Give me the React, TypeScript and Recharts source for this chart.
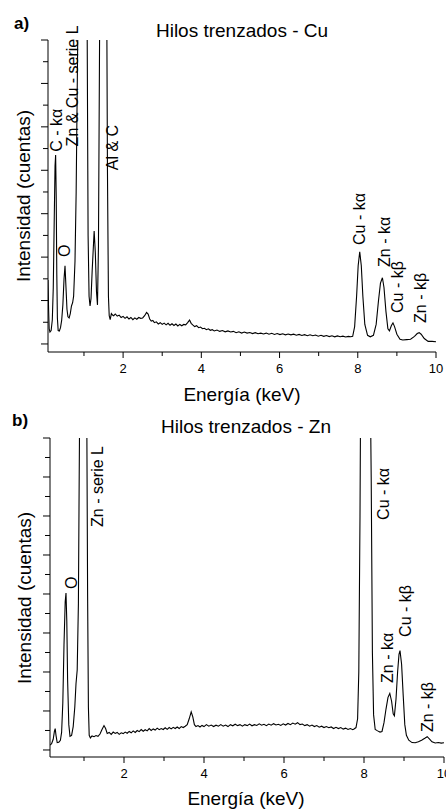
import React from 'react';
import { LineChart, Line, XAxis, YAxis, ReferenceDot } from 'recharts';

const FONT = '"Liberation Sans", Arial, Helvetica, sans-serif';

// ---------- Panel a) Hilos trenzados - Cu ----------
const energyA = [
  0.08, 0.095, 0.11, 0.13, 0.16, 0.19, 0.215, 0.24, 0.26, 0.275, 0.29, 0.305, 0.32, 0.34, 0.37, 0.4, 0.43, 0.46, 0.49, 0.515,
  0.54, 0.565, 0.59, 0.62, 0.65, 0.68, 0.71, 0.735, 0.77, 0.8, 0.84, 0.88, 0.94, 1.0, 1.04, 1.08, 1.105, 1.13, 1.155, 1.18,
  1.21, 1.26, 1.29, 1.32, 1.345, 1.37, 1.4, 1.45, 1.5, 1.56, 1.6, 1.625, 1.645, 1.67, 1.7, 1.73,
  1.76, 1.8, 1.85, 1.9, 1.95, 2.0, 2.05, 2.1, 2.15, 2.2, 2.25, 2.3, 2.35, 2.4, 2.45, 2.5, 2.55, 2.6, 2.64, 2.68,
  2.72, 2.76, 2.8, 2.85, 2.9, 2.95, 3.0, 3.05, 3.1, 3.15, 3.2, 3.25, 3.3, 3.35, 3.4, 3.45, 3.5, 3.55, 3.6, 3.65,
  3.7, 3.74, 3.78, 3.83, 3.88, 3.93, 3.98, 4.03, 4.08, 4.13, 4.18, 4.23, 4.28, 4.33, 4.4, 4.47, 4.54, 4.61, 4.68, 4.75,
  4.82, 4.89, 4.96, 5.03, 5.1, 5.17, 5.24, 5.31, 5.38, 5.45, 5.52, 5.59, 5.66, 5.73, 5.8, 5.87, 5.94, 6.01, 6.08, 6.15,
  6.22, 6.29, 6.36, 6.43, 6.5, 6.57, 6.64, 6.71, 6.78, 6.85, 6.92, 6.99, 7.06, 7.13, 7.2, 7.27, 7.34, 7.41, 7.48, 7.55,
  7.62, 7.69, 7.76, 7.82, 7.87, 7.92, 7.97, 8.01, 8.05, 8.09, 8.13, 8.18, 8.25, 8.32, 8.4, 8.47, 8.53, 8.58, 8.63, 8.67,
  8.72, 8.77, 8.81, 8.86, 8.9, 8.94, 9.0, 9.08, 9.15, 9.25, 9.35, 9.45, 9.52, 9.57, 9.62, 9.7, 9.8, 9.9, 10.0,
];
const countsA = [
  2.95, 1.6, 0.7, 0.55, 0.62, 1.1, 2.6, 5.8, 8.2, 8.7, 6.8, 3.2, 1.2, 0.62, 0.6, 0.75, 1.1, 1.8, 3.0, 3.6,
  2.6, 1.6, 1.25, 1.2, 1.4, 1.75, 1.9, 2.2, 3.8, 7, 14, 22, 30, 27, 24, 15, 5, 2.2, 1.75, 2.1,
  3.4, 5.2, 4.2, 2.4, 1.8, 4.5, 14.5, 35, 45, 25, 8, 2.2, 1.3, 1.12, 1.4, 1.33,
  1.3, 1.38, 1.28, 1.33, 1.22, 1.27, 1.18, 1.25, 1.15, 1.22, 1.12, 1.2, 1.14, 1.22, 1.18, 1.2, 1.3, 1.45, 1.38, 1.15,
  1.05, 1.08, 0.98, 1.02, 0.92, 0.98, 0.9, 0.96, 0.88, 0.95, 0.86, 0.93, 0.85, 0.92, 0.83, 0.9, 0.84, 0.9, 0.88, 0.98,
  1.1, 0.95, 0.88, 0.8, 0.84, 0.75, 0.78, 0.7, 0.72, 0.66, 0.7, 0.63, 0.66, 0.6, 0.64, 0.58, 0.62, 0.56, 0.6, 0.55,
  0.58, 0.52, 0.56, 0.5, 0.55, 0.5, 0.53, 0.48, 0.52, 0.47, 0.5, 0.46, 0.5, 0.45, 0.49, 0.44, 0.48, 0.43, 0.47, 0.42,
  0.46, 0.42, 0.45, 0.4, 0.44, 0.39, 0.43, 0.38, 0.42, 0.38, 0.41, 0.36, 0.4, 0.35, 0.39, 0.34, 0.38, 0.33, 0.37, 0.33,
  0.36, 0.32, 0.35, 0.33, 0.35, 0.8, 2.2, 3.6, 4.25, 3.6, 2.2, 0.9, 0.4, 0.33, 0.4, 0.9, 2.0, 2.8, 3.05, 2.6,
  1.5, 0.7, 0.6, 0.85, 0.97, 0.8, 0.45, 0.22, 0.18, 0.2, 0.22, 0.35, 0.48, 0.52, 0.45, 0.25, 0.12, 0.12, 0.1,
];
const peakTextA = ['C - kα', 'Zn & Cu - serie L', 'O', 'Al & C', 'Cu - kα', 'Zn - kα', 'Cu - kβ', 'Zn - kβ'];
const peakEnergyA = [0.31, 0.7, 0.49, 1.72, 8.04, 8.68, 9.01, 9.6];
const peakCountsA = [8.85, 9.1, 4.0, 8.0, 4.56, 3.55, 1.43, 0.97];
const yTicksA = [0, 1, 2, 3, 4, 5, 6, 7, 8, 9, 10, 11, 12, 13, 14];

// ---------- Panel b) Hilos trenzados - Zn ----------
const energyB = [
  0.15, 0.19, 0.23, 0.26, 0.28, 0.3, 0.33, 0.37, 0.41, 0.44, 0.47, 0.5, 0.53, 0.55, 0.57, 0.59, 0.62, 0.65, 0.69, 0.73,
  0.77, 0.8, 0.83, 0.86, 0.88, 0.92, 0.98, 1.03, 1.07, 1.09, 1.11, 1.13, 1.16,
  1.2, 1.25, 1.3, 1.35, 1.4, 1.45, 1.5, 1.54, 1.58, 1.63, 1.68, 1.73, 1.78, 1.83, 1.88, 1.93, 1.98, 2.03, 2.08, 2.13,
  2.18, 2.23, 2.28, 2.33, 2.38, 2.43, 2.48, 2.53, 2.58, 2.63, 2.68, 2.73, 2.78, 2.83, 2.88, 2.93, 2.98, 3.03, 3.08, 3.13,
  3.18, 3.23, 3.28, 3.33, 3.38, 3.43, 3.48, 3.53, 3.58, 3.63, 3.68, 3.72, 3.76, 3.8, 3.85, 3.9, 3.95, 4.0, 4.06, 4.12,
  4.18, 4.24, 4.3, 4.36, 4.42, 4.48, 4.54, 4.6, 4.66, 4.72, 4.78, 4.84, 4.9, 4.96, 5.02, 5.08, 5.14, 5.2, 5.26, 5.32,
  5.38, 5.44, 5.5, 5.56, 5.62, 5.68, 5.74, 5.8, 5.86, 5.92, 5.98, 6.04, 6.1, 6.16, 6.22, 6.28, 6.34, 6.4, 6.46, 6.52,
  6.58, 6.64, 6.7, 6.76, 6.82, 6.88, 6.94, 7.0, 7.06, 7.12, 7.18, 7.24, 7.3, 7.36, 7.42, 7.48, 7.54, 7.6, 7.66, 7.72,
  7.75, 7.8, 7.84, 7.87, 7.9, 7.93, 8.0, 8.08, 8.14, 8.18, 8.21, 8.24, 8.28, 8.34, 8.4, 8.45, 8.5, 8.55, 8.6, 8.645,
  8.69, 8.73, 8.76, 8.8, 8.84, 8.875, 8.9, 8.94, 8.98, 9.02, 9.06, 9.12, 9.2, 9.28, 9.36, 9.44, 9.52, 9.58, 9.64, 9.7,
  9.78, 9.86, 9.93, 10.0,
];
const countsB = [
  0.25, 0.32, 0.55, 0.95, 1.1, 0.75, 0.38, 0.4, 0.5, 0.9, 2.4, 5.4, 7.6, 8.05, 6.6, 3.6, 1.3, 0.7, 0.75, 1.2,
  2.2, 3.4, 4.1, 7.5, 14, 26, 32, 26, 17, 8, 2.2, 0.75, 0.62,
  0.72, 0.68, 0.74, 0.7, 0.82, 1.05, 1.25, 1.1, 0.85, 0.9, 0.8, 0.92, 0.85, 0.9, 0.8, 0.88, 0.84, 0.92, 0.86, 0.95,
  0.88, 0.98, 0.9, 1.0, 0.94, 1.05, 0.96, 1.04, 0.98, 1.1, 1.0, 1.08, 1.02, 1.12, 1.04, 1.1, 1.05, 1.14, 1.06, 1.15,
  1.08, 1.16, 1.1, 1.18, 1.1, 1.2, 1.15, 1.22, 1.3, 1.6, 1.95, 1.7, 1.3, 1.2, 1.25, 1.18, 1.26, 1.2, 1.3, 1.22,
  1.28, 1.2, 1.27, 1.22, 1.3, 1.22, 1.28, 1.2, 1.3, 1.24, 1.32, 1.25, 1.3, 1.22, 1.3, 1.25, 1.33, 1.24, 1.3, 1.26,
  1.34, 1.27, 1.32, 1.25, 1.33, 1.27, 1.35, 1.28, 1.32, 1.26, 1.34, 1.28, 1.36, 1.3, 1.38, 1.32, 1.4, 1.3, 1.33, 1.25,
  1.3, 1.22, 1.28, 1.2, 1.25, 1.17, 1.22, 1.15, 1.2, 1.14, 1.18, 1.1, 1.16, 1.1, 1.15, 1.07, 1.12, 1.05, 1.1, 1.04,
  1.08, 1.15, 1.6, 4, 12, 24, 42, 35, 22, 14, 5, 1.8, 1.05, 0.98, 0.92, 0.95, 1.4, 2.1, 2.7, 2.9,
  2.5, 1.85, 1.75, 2.6, 4.0, 4.9, 5.1, 4.4, 2.8, 1.3, 0.75, 0.5, 0.38, 0.37, 0.42, 0.5, 0.6, 0.68, 0.56, 0.42,
  0.36, 0.38, 0.35, 0.37,
];
const peakTextB = ['O', 'Zn - serie L', 'Cu - kα', 'Zn - kα', 'Cu - kβ', 'Zn - kβ'];
const peakEnergyB = [0.68, 1.33, 8.5, 8.58, 9.03, 9.58];
const peakCountsB = [8.26, 11.44, 11.8, 3.44, 5.8, 0.92];
const yTicksB = [0, 1, 2, 3, 4, 5, 6, 7, 8, 9, 10, 11, 12, 13, 14, 15, 16];

// ---------- shared ----------
const xTicks = [1, 2, 3, 4, 5, 6, 7, 8, 9, 10];
const xLabelTicks = [2, 4, 6, 8, 10];

const XTick = (props: any) => {
  const { x, y, payload } = props;
  const v = payload.value;
  const major = xLabelTicks.includes(v);
  return (
    <g>
      <line x1={x} y1={y} x2={x} y2={y + (major ? 6 : 4)} stroke="#000" strokeWidth={1} />
      {major && (
        <text x={x} y={y + 21} textAnchor="middle" fontSize={13} fontFamily={FONT} fill="#000">
          {v}
        </text>
      )}
    </g>
  );
};

const YTick = (props: any) => {
  const { x, y, payload } = props;
  const major = payload.value % 2 === 0;
  return <line x1={x - (major ? 7 : 5)} y1={y} x2={x} y2={y} stroke="#000" strokeWidth={1} />;
};

const PeakLabel = (text: string) => (props: any) => {
  const { cx, cy } = props;
  if (typeof cx !== 'number' || typeof cy !== 'number') return <g />;
  return (
    <text
      x={cx}
      y={cy}
      transform={`rotate(-90 ${cx} ${cy})`}
      textAnchor="start"
      dominantBaseline="central"
      fontSize={16}
      fontFamily={FONT}
      fill="#000"
    >
      {text}
    </text>
  );
};

type PanelProps = {
  energy: number[];
  counts: number[];
  xMin: number;
  yMin: number;
  yMax: number;
  yTicks: number[];
  margin: { top: number; right: number; bottom: number; left: number };
  peakText: string[];
  peakEnergy: number[];
  peakCounts: number[];
  tag: string;
  title: string;
  tagPos: [number, number];
  titlePos: [number, number];
  xLabelPos: [number, number];
  yLabelPos: [number, number];
};

const Panel = (p: PanelProps) => {
  const data = p.energy.map((e, i) => ({ e, v: p.counts[i] }));
  return (
    <div style={{ position: 'relative', width: 446, height: 405 }}>
      <LineChart width={446} height={405} data={data} margin={p.margin}>
        <XAxis
          dataKey="e"
          type="number"
          domain={[p.xMin, 10]}
          allowDataOverflow
          ticks={xTicks}
          interval={0}
          tickSize={0}
          tickMargin={0}
          tickLine={false}
          tick={<XTick />}
          axisLine={{ stroke: '#000', strokeWidth: 1 }}
          height={50}
        />
        <YAxis
          type="number"
          domain={[p.yMin, p.yMax]}
          allowDataOverflow
          ticks={p.yTicks}
          interval={0}
          tickSize={0}
          tickMargin={0}
          tickLine={false}
          tick={<YTick />}
          axisLine={{ stroke: '#000', strokeWidth: 1 }}
          width={40}
        />
        <Line
          type="linear"
          dataKey="v"
          stroke="#000"
          strokeWidth={1.1}
          dot={false}
          activeDot={false}
          isAnimationActive={false}
        />
        {p.peakText.map((t, i) => (
          <ReferenceDot
            key={t + i}
            x={p.peakEnergy[i]}
            y={p.peakCounts[i]}
            r={0}
            ifOverflow="visible"
            shape={PeakLabel(t)}
          />
        ))}
      </LineChart>
      <svg
        width={446}
        height={405}
        style={{ position: 'absolute', left: 0, top: 0, pointerEvents: 'none' }}
      >
        <text x={p.tagPos[0]} y={p.tagPos[1]} fontSize={17} fontWeight="bold" fontFamily={FONT} fill="#000">
          {p.tag}
        </text>
        <text x={p.titlePos[0]} y={p.titlePos[1]} fontSize={19} textAnchor="middle" fontFamily={FONT} fill="#000">
          {p.title}
        </text>
        <text x={p.xLabelPos[0]} y={p.xLabelPos[1]} fontSize={19} textAnchor="middle" fontFamily={FONT} fill="#000">
          Energía (keV)
        </text>
        <text
          x={p.yLabelPos[0]}
          y={p.yLabelPos[1]}
          transform={`rotate(-90 ${p.yLabelPos[0]} ${p.yLabelPos[1]})`}
          fontSize={19}
          textAnchor="middle"
          dominantBaseline="central"
          fontFamily={FONT}
          fill="#000"
        >
          Intensidad (cuentas)
        </text>
      </svg>
    </div>
  );
};

export default function App() {
  return (
    <div style={{ position: 'absolute', left: 0, top: 0, width: 446, height: 810, background: '#fff', overflow: 'hidden' }}>
      <Panel
        energy={energyA}
        counts={countsA}
        xMin={0.08}
        yMin={-0.37}
        yMax={14}
        yTicks={yTicksA}
        margin={{ top: 40, right: 10, bottom: 3, left: 8 }}
        peakText={peakTextA}
        peakEnergy={peakEnergyA}
        peakCounts={peakCountsA}
        tag="a)"
        title="Hilos trenzados - Cu"
        tagPos={[14, 29]}
        titlePos={[242, 37]}
        xLabelPos={[242, 401]}
        yLabelPos={[23, 196]}
      />
      <Panel
        energy={energyB}
        counts={countsB}
        xMin={0.15}
        yMin={-0.36}
        yMax={16}
        yTicks={yTicksB}
        margin={{ top: 33, right: 2, bottom: 3, left: 10 }}
        peakText={peakTextB}
        peakEnergy={peakEnergyB}
        peakCounts={peakCountsB}
        tag="b)"
        title="Hilos trenzados - Zn"
        tagPos={[12, 21]}
        titlePos={[246, 28]}
        xLabelPos={[246, 400]}
        yLabelPos={[24, 193]}
      />
    </div>
  );
}
